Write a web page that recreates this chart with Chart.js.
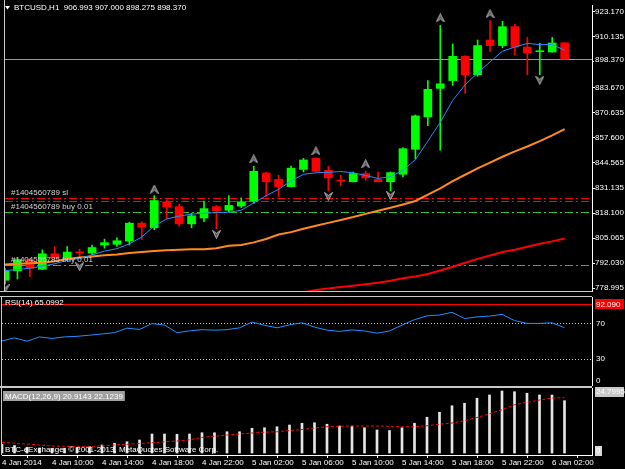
<!DOCTYPE html>
<html>
<head>
<meta charset="utf-8">
<script src="https://cdn.jsdelivr.net/npm/chart.js@4.4.1/dist/chart.umd.min.js"></script>
<style>
  html, body { margin: 0; padding: 0; background: #000; }
  #wrap { position: relative; width: 625px; height: 469px; background: #000; overflow: hidden; }
  canvas { position: absolute; left: 0; }
</style>
</head>
<body>
<div id="wrap">
  <canvas id="mainChart" width="625" height="296" style="top:0px"></canvas>
  <canvas id="rsiChart" width="625" height="92" style="top:295px"></canvas>
  <canvas id="macdChart" width="625" height="82" style="top:387px"></canvas>
</div>
<script>
// BTCUSD H1, 4 Jan 2014 06:00 .. 6 Jan 2014 03:00
const openP  = [783.06, 787.98, 793.87, 788.79, 796.91, 794.73, 797.63, 797.27, 801.48, 801.84,
                803.51, 812.86, 810.47, 824.02, 821.49, 812.50, 815.55, 821.49, 819.61, 821.79,
                824.33, 839.05, 835.70, 831.94, 840.93, 846.67, 840.42, 835.09, 834.48, 838.75,
                835.70, 834.48, 838.39, 851.44, 868.34, 883.22, 887.28, 899.97, 890.32, 908.45,
                905.55, 915.40, 904.74, 902.36, 902.20, 906.993];
const highP  = [789.15, 794.38, 794.48, 798.95, 800.67, 800.67, 799.30, 801.48, 804.53, 805.24,
                813.36, 813.67, 827.22, 825.19, 822.65, 818.08, 824.33, 822.15, 827.22, 826.05,
                842.60, 839.41, 837.88, 842.60, 846.67, 846.92, 842.45, 837.88, 839.56, 840.07,
                839.56, 839.66, 852.25, 869.36, 887.28, 916.06, 906.42, 900.33, 908.45, 918.60,
                918.25, 916.57, 909.82, 906.77, 909.82, 907.000];
const lowP   = [781.03, 783.72, 784.93, 788.64, 793.87, 793.87, 795.24, 796.41, 799.81, 800.67,
                801.48, 804.38, 809.45, 815.04, 811.33, 810.47, 813.67, 809.96, 818.74, 820.98,
                823.16, 826.87, 826.87, 831.79, 839.56, 839.66, 829.76, 832.30, 834.33, 835.34,
                834.33, 829.76, 837.02, 846.36, 863.77, 850.93, 884.74, 880.53, 889.51, 902.51,
                904.39, 900.48, 890.32, 890.32, 902.10, 898.275];
const closeP = [788.13, 793.87, 789.30, 796.91, 794.73, 797.78, 797.37, 800.16, 802.70, 803.72,
                812.86, 810.82, 824.68, 821.28, 812.50, 816.71, 820.47, 819.25, 822.15, 824.02,
                839.91, 834.48, 831.94, 841.59, 845.85, 839.91, 836.51, 834.84, 838.75, 836.51,
                834.48, 839.25, 851.74, 868.85, 882.71, 885.60, 899.97, 890.32, 905.55, 905.55,
                915.40, 904.74, 901.70, 902.61, 906.90, 898.370];

// moving averages
const maFast = [788.13, 788.64, 789.40, 790.42, 791.69, 793.46, 794.48, 796.25, 798.29, 799.55,
                802.09, 805.65, 811.48, 815.04, 816.56, 817.58, 818.08, 818.34, 818.59, 819.61,
                823.41, 827.22, 830.52, 834.84, 838.39, 839.15, 839.41, 839.81, 839.15, 837.78,
                836.21, 837.12, 840.42, 846.01, 855.65, 865.55, 876.97, 885.10, 891.19, 897.03,
                902.61, 904.79, 906.67, 906.06, 906.06, 903.12];
const maMid  = [791.33, 791.69, 791.94, 792.19, 792.96, 794.22, 794.99, 795.49, 796.10, 796.51,
                797.27, 797.78, 798.29, 798.79, 799.05, 799.20, 799.30, 799.81, 801.08, 801.48,
                802.85, 804.63, 806.92, 808.19, 809.96, 811.48, 813.01, 814.53, 816.05, 817.73,
                819.35, 820.93, 822.65, 824.43, 827.73, 831.03, 834.84, 838.14, 841.44, 844.48,
                847.53, 850.32, 852.86, 855.65, 858.70, 862.00];
const maSlowStart = 24;
const maSlow = [776.71, 777.98, 778.74, 779.50, 780.26, 781.03, 781.79, 782.80, 784.07, 785.09,
                786.36, 788.13, 790.16, 792.19, 794.22, 796.00, 797.78, 799.05, 800.57, 802.09,
                803.36, 804.89];

// fractal arrows
const fracUpIdx = [12, 20, 25, 29, 35, 39];
const fracUpVal = [830.62, 846.36, 850.57, 843.82, 919.97, 922.15];
const fracDnIdx = [0, 6, 17, 26, 31, 43];
const fracDnVal = [778.64, 790.16, 807.07, 826.87, 827.22, 887.48];

// order lines
const orderLevels = [826.05, 824.68, 818.94, 791.17];
const orderKinds  = ['sl', 'sl', 'buy', 'buy'];
const orderTexts  = ['#1404560789 sl', '', '#1404560789 buy 0.01', '#1404556785 buy 0.01'];

const priceTicks = [923.170, 910.135, 897.100, 883.670, 870.635, 857.600,
                    844.565, 831.135, 818.100, 805.065, 792.030, 778.995];
const bidPrice = 898.370;

// RSI(14)
const rsiVals = [50.1, 53.5, 49.8, 54.6, 52.9, 54.7, 55.3, 56.6, 58.0, 59.5,
                 64.6, 63.1, 69.8, 68.1, 59.5, 61.5, 62.9, 62.3, 62.9, 65.0,
                 71.5, 67.8, 65.0, 68.4, 70.7, 65.8, 62.3, 60.9, 62.6, 61.4,
                 58.9, 61.4, 68.1, 74.3, 78.6, 79.5, 82.6, 75.5, 77.4, 78.3,
                 80.3, 73.2, 70.0, 70.0, 70.7, 65.0992];
const rsiLevels = [70, 30];
const rsiAlert = 92.090;

// MACD(12,26,9)
const macdMain = [3.5, 3.0, 2.3, 2.0, 1.8, 1.9, 2.2, 2.6, 3.2, 3.9,
                  4.5, 5.2, 7.6, 7.6, 7.5, 7.6, 8.1, 8.1, 8.5, 8.5,
                  9.9, 10.1, 10.5, 11.2, 11.9, 12.1, 11.5, 10.8, 10.8, 10.1,
                  9.2, 9.0, 10.1, 11.9, 14.3, 16.3, 18.9, 19.9, 21.9, 23.2,
                  24.7995, 24.5, 23.9, 23.2, 23.2, 20.9143];
const macdSignal = [4.3, 3.9, 3.6, 3.2, 2.8, 2.7, 2.55, 2.55, 2.9, 3.2,
                    3.5, 3.8, 4.1, 4.5, 4.8, 5.3, 6.2, 6.7, 7.2, 7.6,
                    8.0, 8.3, 8.5, 9.0, 9.4, 10.0, 10.5, 10.7, 10.8, 10.8,
                    10.8, 10.7, 10.5, 10.5, 10.9, 11.5, 12.0, 12.9, 14.2, 15.7,
                    17.3, 19.3, 20.3, 21.2, 22.0, 22.1239];
const macdTop = 24.7995;

const xTickIdx = [0, 4, 8, 12, 16, 20, 24, 28, 32, 36, 40, 44];
const xTickLabels = ['4 Jan 2014', '4 Jan 10:00', '4 Jan 14:00', '4 Jan 18:00', '4 Jan 22:00',
                     '5 Jan 02:00', '5 Jan 06:00', '5 Jan 10:00', '5 Jan 14:00', '5 Jan 18:00',
                     '5 Jan 22:00', '6 Jan 02:00'];

// ---- look ----
const FONT = '"Liberation Sans", Arial, sans-serif';
const FONT_PX = 8;
const AXIS_W = 33;
const X_MIN = 0, X_MAX = 47.2;
const FRAME = '#c8c8c8';

Chart.defaults.font.family = FONT;
Chart.defaults.font.size = FONT_PX;
Chart.defaults.color = '#ffffff';

const idx = openP.map((_, i) => i);
const candleColor = idx.map(i => closeP[i] >= openP[i] ? '#00ff00' : '#ff0000');
const last = arr => arr[arr.length - 1];

function makeArrow(up) {
    const c = document.createElement('canvas');
    c.width = 9; c.height = 9;
    const g = c.getContext('2d');
    g.beginPath();
    if (up) {
        g.moveTo(4.5, 0.5); g.lineTo(8.5, 8.5); g.lineTo(4.5, 5.5); g.lineTo(0.5, 8.5);
    } else {
        g.moveTo(4.5, 8.5); g.lineTo(8.5, 0.5); g.lineTo(4.5, 3.5); g.lineTo(0.5, 0.5);
    }
    g.closePath();
    g.fillStyle = '#5a5a5a';
    g.fill();
    g.strokeStyle = '#b4b4b4';
    g.lineWidth = 1;
    g.stroke();
    return c;
}

function xScale(show) {
    return { type: 'linear', min: X_MIN, max: X_MAX, display: show, offset: false };
}

function rightAxis(min, max) {
    return {
        position: 'right', min: min, max: max,
        afterFit: s => { s.width = AXIS_W; },
        ticks: { display: false },
        grid: { display: false },
        border: { display: true, color: '#ffffff' }
    };
}

const baseOpts = {
    responsive: false,
    animation: false,
    devicePixelRatio: 1,
    events: [],
    plugins: { legend: { display: false }, tooltip: { enabled: false } }
};

function frame(ctx, a, top, bottom) {
    ctx.strokeStyle = FRAME;
    ctx.lineWidth = 1;
    ctx.beginPath();
    ctx.moveTo(a.left - 0.5, top);
    ctx.lineTo(a.left - 0.5, bottom);
    ctx.stroke();
}

// ---- main price window ----
const mainDeco = {
    id: 'mainDeco',
    beforeDatasetsDraw(chart) {
        const { ctx, chartArea: a, scales: { y } } = chart;
        ctx.save();
        ctx.lineWidth = 1;
        ctx.setLineDash([8, 3, 2, 3]);
        orderLevels.forEach((lv, j) => {
            const py = Math.round(y.getPixelForValue(lv)) + 0.5;
            ctx.strokeStyle = orderKinds[j] === 'sl' ? '#ff0000' : '#2fc02f';
            ctx.beginPath();
            ctx.moveTo(a.left, py);
            ctx.lineTo(a.right, py);
            ctx.stroke();
        });
        ctx.setLineDash([]);
        const by = Math.round(y.getPixelForValue(bidPrice)) + 0.5;
        ctx.strokeStyle = '#8c9cac';
        ctx.beginPath();
        ctx.moveTo(a.left, by);
        ctx.lineTo(a.right, by);
        ctx.stroke();
        ctx.restore();
    },
    afterDraw(chart) {
        const { ctx, chartArea: a, scales: { y } } = chart;
        ctx.save();
        ctx.font = FONT_PX + 'px ' + FONT;
        ctx.textBaseline = 'bottom';
        ctx.fillStyle = '#d2d2d2';
        orderLevels.forEach((lv, j) => {
            if (!orderTexts[j]) return;
            const py = Math.round(y.getPixelForValue(lv));
            ctx.fillText(orderTexts[j], a.left + 6, py - 1);
        });
        // header
        ctx.fillStyle = '#ffffff';
        ctx.beginPath();
        ctx.moveTo(5, 6); ctx.lineTo(10, 6); ctx.lineTo(7.5, 9.5);
        ctx.closePath();
        ctx.fill();
        ctx.textBaseline = 'middle';
        ctx.fillText('BTCUSD,H1  ' + [openP, highP, lowP, closeP]
            .map(s => last(s).toFixed(3)).join(' '), 14, 8);
        // bid label on the price axis
        const by = Math.round(y.getPixelForValue(bidPrice));
        ctx.fillStyle = '#000000';
        ctx.fillRect(a.right + 2, by - 5, AXIS_W - 2, 10);
        ctx.fillStyle = '#ffffff';
        ctx.fillText(bidPrice.toFixed(3), a.right + 3, by + 0.5);
        frame(ctx, a, 0, a.bottom);
        ctx.strokeStyle = FRAME;
        ctx.beginPath();
        ctx.moveTo(0, a.bottom + 0.5);
        ctx.lineTo(a.right, a.bottom + 0.5);
        ctx.stroke();
        ctx.restore();
    }
};

new Chart(document.getElementById('mainChart'), {
    type: 'bar',
    data: {
        datasets: [
            { type: 'line', data: fracUpIdx.map((i, j) => ({ x: i, y: fracUpVal[j] })), showLine: false,
              pointStyle: makeArrow(true), pointRadius: 4 },
            { type: 'line', data: fracDnIdx.map((i, j) => ({ x: i, y: fracDnVal[j] })), showLine: false,
              pointStyle: makeArrow(false), pointRadius: 4 },
            { type: 'line', data: idx.map(i => ({ x: i, y: maFast[i] })), borderColor: '#1e90ff',
              borderWidth: 1, pointRadius: 0, tension: 0 },
            { type: 'line', data: idx.map(i => ({ x: i, y: maMid[i] })), borderColor: '#ff8a1e',
              borderWidth: 2, pointRadius: 0, tension: 0 },
            { type: 'line', data: maSlow.map((v, j) => ({ x: maSlowStart + j, y: v })), borderColor: '#ff0000',
              borderWidth: 2, pointRadius: 0, tension: 0 },
            { data: idx.map(i => ({ x: i, y: [openP[i], closeP[i]] })), backgroundColor: candleColor,
              barThickness: 8, minBarLength: 1, grouped: false },
            { data: idx.map(i => ({ x: i, y: [lowP[i], highP[i]] })), backgroundColor: candleColor,
              barThickness: 1, grouped: false }
        ]
    },
    options: Object.assign({}, baseOpts, {
        layout: { padding: { left: 2, top: 0, right: 0, bottom: 2 } },
        scales: {
            x: xScale(false),
            y: {
                position: 'right', min: 777.47, max: 926.72,
                afterFit: s => { s.width = AXIS_W; },
                afterBuildTicks: s => { s.ticks = priceTicks.map(v => ({ value: v })); },
                ticks: { autoSkip: false, padding: 0, color: '#ffffff', callback: v => v.toFixed(3) },
                grid: { drawOnChartArea: false, drawTicks: true, tickLength: 3, color: '#ffffff' },
                border: { display: true, color: '#ffffff' }
            }
        }
    }),
    plugins: [mainDeco]
});

// ---- RSI window ----
const rsiDeco = {
    id: 'rsiDeco',
    beforeDatasetsDraw(chart) {
        const { ctx, chartArea: a, scales: { y } } = chart;
        ctx.save();
        ctx.lineWidth = 1;
        ctx.strokeStyle = '#c0c0c0';
        ctx.setLineDash([1, 2]);
        rsiLevels.forEach(lv => {
            const py = Math.round(y.getPixelForValue(lv)) + 0.5;
            ctx.beginPath();
            ctx.moveTo(a.left, py);
            ctx.lineTo(a.right, py);
            ctx.stroke();
        });
        ctx.setLineDash([]);
        const ry = Math.round(y.getPixelForValue(rsiAlert)) + 0.5;
        ctx.strokeStyle = '#ff0000';
        ctx.beginPath();
        ctx.moveTo(a.left, ry);
        ctx.lineTo(a.right, ry);
        ctx.stroke();
        ctx.restore();
    },
    afterDraw(chart) {
        const { ctx, chartArea: a, scales: { y } } = chart;
        ctx.save();
        ctx.font = FONT_PX + 'px ' + FONT;
        ctx.textBaseline = 'middle';
        ctx.fillStyle = '#ffffff';
        ctx.fillText('RSI(14) ' + last(rsiVals).toFixed(4), a.left + 3, a.top + 6);
        rsiLevels.forEach(lv => {
            ctx.fillText(String(lv), a.right + 4, y.getPixelForValue(lv));
        });
        ctx.fillText('0', a.right + 4, y.getPixelForValue(0) - 4);
        const ry = Math.round(y.getPixelForValue(rsiAlert));
        ctx.fillStyle = '#ff0000';
        ctx.fillRect(a.right + 3, ry - 5, AXIS_W - 4, 10);
        ctx.fillStyle = '#ffffff';
        ctx.fillText(rsiAlert.toFixed(3), a.right + 4, ry + 0.5);
        frame(ctx, a, a.top - 1, a.bottom + 1);
        ctx.strokeStyle = FRAME;
        ctx.beginPath();
        ctx.moveTo(0, a.top - 0.5); ctx.lineTo(a.right, a.top - 0.5);
        ctx.moveTo(0, a.bottom + 1.5); ctx.lineTo(a.right, a.bottom + 1.5);
        ctx.stroke();
        ctx.restore();
    }
};

new Chart(document.getElementById('rsiChart'), {
    type: 'line',
    data: {
        datasets: [{ data: idx.map(i => ({ x: i, y: rsiVals[i] })), borderColor: '#1e90ff',
                     borderWidth: 1, pointRadius: 0, tension: 0 }]
    },
    options: Object.assign({}, baseOpts, {
        layout: { padding: { left: 2, top: 2, right: 0, bottom: 2 } },
        scales: { x: xScale(false), y: rightAxis(0, 100) }
    }),
    plugins: [rsiDeco]
});

// ---- MACD window ----
const macdDeco = {
    id: 'macdDeco',
    afterDraw(chart) {
        const { ctx, chartArea: a, scales: { y } } = chart;
        ctx.save();
        ctx.font = FONT_PX + 'px ' + FONT;
        ctx.textBaseline = 'middle';
        const title = 'MACD(12,26,9) ' + last(macdMain).toFixed(4) + ' ' + last(macdSignal).toFixed(4);
        const tw = ctx.measureText(title).width;
        ctx.fillStyle = '#a0a0a0';
        ctx.fillRect(a.left + 1, a.top + 3, tw + 4, 10);
        ctx.fillStyle = '#ffffff';
        ctx.fillText(title, a.left + 3, a.top + 8.5);
        ctx.fillText('BTC-eExchange, \u00a9 2001-2013, MetaQuotes Software Corp.', a.left + 3, a.bottom - 5);
        // scale labels
        const topY = Math.round(y.getPixelForValue(macdTop));
        ctx.fillStyle = '#c8c8c8';
        ctx.fillRect(a.right + 3, topY - 4, AXIS_W - 4, 10);
        ctx.fillStyle = '#ffffff';
        ctx.fillText(macdTop.toFixed(4), a.right + 4, topY + 1);
        const zY = Math.round(y.getPixelForValue(0));
        ctx.fillStyle = '#d8d8d8';
        ctx.fillRect(a.right + 3, zY - 7, 7, 10);
        ctx.fillStyle = '#ffffff';
        ctx.fillText('0', a.right + 4, zY - 2);
        frame(ctx, a, a.top - 1, a.bottom);
        ctx.strokeStyle = FRAME;
        ctx.beginPath();
        ctx.moveTo(0, a.top - 0.5); ctx.lineTo(a.right, a.top - 0.5);
        ctx.stroke();
        ctx.restore();
    }
};

new Chart(document.getElementById('macdChart'), {
    type: 'bar',
    data: {
        datasets: [
            { type: 'line', data: idx.map(i => ({ x: i, y: macdSignal[i] })), borderColor: '#ff0000',
              borderWidth: 1, borderDash: [3, 2], pointRadius: 0, tension: 0 },
            { data: idx.map(i => ({ x: i, y: macdMain[i] })), backgroundColor: '#e6e6e6',
              barThickness: 2, grouped: false }
        ]
    },
    options: Object.assign({}, baseOpts, {
        layout: { padding: { left: 2, top: 1, right: 0, bottom: 0 } },
        scales: {
            x: {
                type: 'linear', min: X_MIN, max: X_MAX, position: 'bottom', offset: false,
                afterFit: s => { s.height = 14; },
                afterBuildTicks: s => { s.ticks = xTickIdx.map(v => ({ value: v })); },
                ticks: { autoSkip: false, maxRotation: 0, align: 'start', padding: 0, color: '#ffffff',
                         callback: (v, i) => xTickLabels[i] },
                grid: { drawOnChartArea: false, drawTicks: true, tickLength: 3, color: '#ffffff' },
                border: { display: true, color: '#ffffff' }
            },
            y: rightAxis(-0.8, 26.0)
        }
    }),
    plugins: [macdDeco]
});
</script>
</body>
</html>
